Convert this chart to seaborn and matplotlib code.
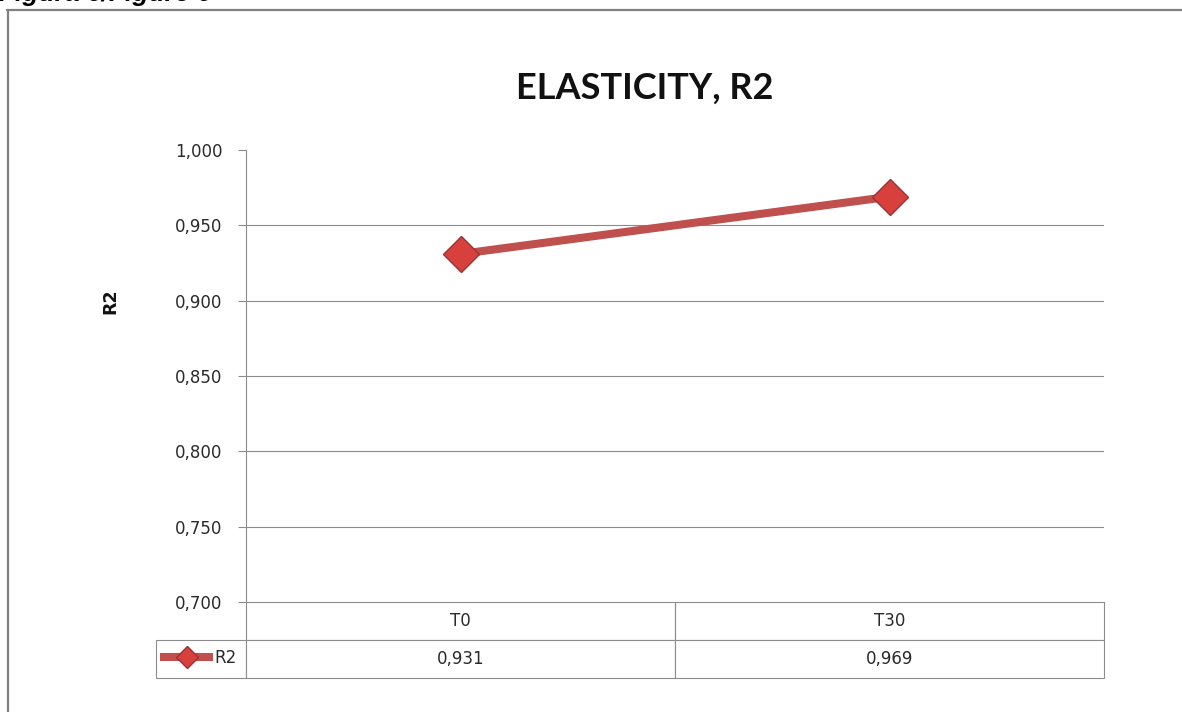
import matplotlib
matplotlib.use("Agg")
import matplotlib.pyplot as plt
from matplotlib.lines import Line2D
import seaborn as sns
import pandas as pd

# Data
categories = ["T0", "T30"]
r2_values = [0.931, 0.969]
y_ticks = [0.700, 0.750, 0.800, 0.850, 0.900, 0.950, 1.000]

sns.set_theme(style="white")
plt.rcParams["font.family"] = ["DejaVu Sans"]

W, H = 1182, 712
fig = plt.figure(figsize=(W / 100, H / 100), dpi=100)
fig.patch.set_facecolor("white")

# plot area in pixels
x0, x1, ytop, ybot = 246, 1104, 150, 602
ax = fig.add_axes([x0 / W, 1 - ybot / H, (x1 - x0) / W, (ybot - ytop) / H])

line_color = "#C0504D"
text_color = "#2a2a2a"
num_size = 12

df = pd.DataFrame({"period": categories, "R2": r2_values})
sns.lineplot(
    data=df, x="period", y="R2", ax=ax, color=line_color, linewidth=5.8,
    marker="D", markersize=18, markerfacecolor="#D8403E", markeredgecolor="#9B3230",
    markeredgewidth=1.0, legend=False,
)
for ln in ax.lines:
    ln.set_solid_capstyle("butt")

ax.set_xlim(-0.5, len(categories) - 0.5)
ax.set_ylim(y_ticks[0], y_ticks[-1])
ax.set_yticks(y_ticks)
ax.set_yticklabels([f"{v:.3f}".replace(".", ",") for v in y_ticks],
                   fontsize=num_size, color=text_color)
ax.set_xticks([])
ax.set_xlabel("")

grid_color = "#8C8C8C"
for v in y_ticks[1:-1]:
    ax.axhline(v, color=grid_color, linewidth=0.8, zorder=0)

for side in ["top", "right"]:
    ax.spines[side].set_visible(False)
for side in ["left", "bottom"]:
    ax.spines[side].set_color(grid_color)
    ax.spines[side].set_linewidth(0.8)

ax.tick_params(axis="y", which="major", length=6, width=0.8, color=grid_color,
               direction="out", pad=11, left=True)

ax.set_ylabel("R2", fontsize=12.5, fontweight="bold", color="#111111")
ax.yaxis.set_label_coords(-0.147, 0.666)

fig.text(645 / W, 1 - 88 / H, "ELASTICITY, R2", family="Lato", fontsize=26,
         fontweight="bold", color="#111111", ha="center", va="center")

# data table below the axis
tab_left = (156 - x0) / (x1 - x0)
tab_height = (678 - ybot) / (ybot - ytop)
total_w = 1 - tab_left
legend_w = (x0 - 156) / (x1 - x0)
col_w = [legend_w / total_w] + [1 / len(categories) / total_w] * len(categories)
cell_text = [[""] + categories,
             [""] + [f"{v:.3f}".replace(".", ",") for v in r2_values]]
table = ax.table(cellText=cell_text, colWidths=col_w, cellLoc="center",
                 bbox=[tab_left, -tab_height, total_w, tab_height])
table.auto_set_font_size(False)
for (r, c), cell in table.get_celld().items():
    cell.set_edgecolor(grid_color)
    cell.set_linewidth(0.8)
    cell.get_text().set_fontsize(num_size)
    cell.get_text().set_color(text_color)
    if r == 0 and c == 0:
        cell.visible_edges = ""
    elif r == 0:
        cell.visible_edges = "LRB"

# legend key inside the table's first cell
handle = Line2D([], [], color=line_color, linewidth=5.8, marker="D",
                markersize=11, markerfacecolor="#D8403E", markeredgecolor="#9B3230",
                solid_capstyle="butt")
leg = fig.legend([handle], ["R2"], loc="center left",
                 bbox_to_anchor=(160 / W, 1 - 658 / H), frameon=False,
                 fontsize=num_size, handlelength=3.2, handletextpad=0.05,
                 borderpad=0, borderaxespad=0, numpoints=1)
for t in leg.get_texts():
    t.set_color(text_color)

# outer frame and caption
frame_color = "#808080"
fig.add_artist(Line2D([8 / W, 8 / W], [0, 1 - 10 / H], color=frame_color,
                      linewidth=1.6, transform=fig.transFigure))
fig.add_artist(Line2D([7 / W, 1], [1 - 10 / H, 1 - 10 / H], color=frame_color,
                      linewidth=1.6, transform=fig.transFigure))
fig.text(-1 / W, 1 - 1.5 / H, "Figura 6/Figure 6", family="Liberation Sans",
         fontsize=19, fontweight="bold", fontstyle="italic", va="baseline",
         ha="left", color="#000000")

fig.savefig("out.png", dpi=100, facecolor="white")
